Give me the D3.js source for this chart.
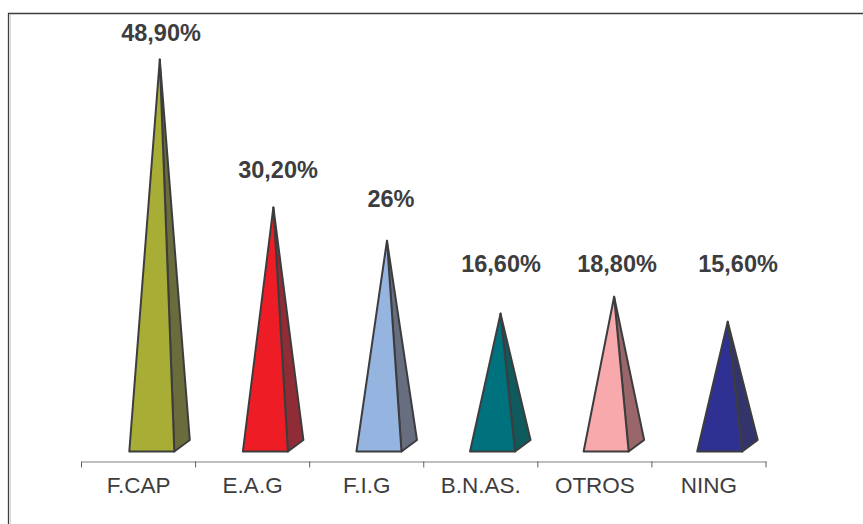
<!DOCTYPE html>
<html>
<head>
<meta charset="utf-8">
<script src="https://cdn.jsdelivr.net/npm/d3@7"></script>
<style>
  html, body { margin: 0; padding: 0; background: #fff; }
  svg { display: block; }
</style>
</head>
<body>
<div id="chart"></div>
<script>
// Data
const categorias = ["F.CAP", "E.A.G", "F.I.G", "B.N.AS.", "OTROS", "NING"];
const etiquetas  = ["48,90%", "30,20%", "26%", "16,60%", "18,80%", "15,60%"];
// drawn heights do not follow the printed labels exactly
const alturas    = [48.9, 30.45, 26.3, 17.2, 19.3, 16.2];
const coloresFrente = ["#a8ae35", "#ee1c25", "#95b5e0", "#00727d", "#f7a9ab", "#2e3192"];
const coloresLado   = ["#6b6c3c", "#8f2c35", "#666e80", "#0f5a5c", "#99666a", "#33346b"];

// Label anchors, they float free of the apex in the original
const etiquetaX = [161, 278, 391, 501, 617, 738];
const etiquetaY = [41, 178, 207, 272, 272, 272];

const largeur = 863, hauteur = 524;
const gris = "#3d3d3f";

const svg = d3.select("#chart").append("svg")
    .attr("width", largeur).attr("height", hauteur);

// Frame
svg.append("path")
    .attr("d", "M10.5,524V15")
    .attr("fill", "none").attr("stroke", "#d8d8d8").attr("stroke-width", 1);
svg.append("path")
    .attr("d", "M8.5,524V13.5H863")
    .attr("fill", "none").attr("stroke", gris).attr("stroke-width", 1.3);

// Scales: the pyramids sit on their own band, shifted from the axis one
const x = d3.scaleBand().domain(categorias).range([81.5, 766]);
const xPiramide = d3.scaleBand().domain(categorias).range([95, 776.5]);
const y = d3.scaleLinear().domain([0, 48.9]).range([451.5, 59.5]);

// Pyramid geometry
const anchoFrente = 45, fondoX = 15.5, fondoY = 11.5, apiceX = 8;

const g = svg.selectAll(".piramide").data(categorias).join("g").attr("class", "piramide");
const cx = c => xPiramide(c) + xPiramide.bandwidth() / 2;

// right side face
g.append("path")
    .attr("d", (c, i) => {
        const x0 = cx(c) + anchoFrente / 2;
        return d3.line()([[x0, y(0)], [x0 + fondoX, y(0) - fondoY], [cx(c) + apiceX, y(alturas[i])]]) + "Z";
    })
    .attr("fill", (c, i) => coloresLado[i])
    .attr("stroke", gris).attr("stroke-width", 2).attr("stroke-linejoin", "round");

// front face
g.append("path")
    .attr("d", (c, i) => {
        const x0 = cx(c) - anchoFrente / 2;
        return d3.line()([[x0, y(0)], [x0 + anchoFrente, y(0)], [cx(c) + apiceX, y(alturas[i])]]) + "Z";
    })
    .attr("fill", (c, i) => coloresFrente[i])
    .attr("stroke", gris).attr("stroke-width", 2).attr("stroke-linejoin", "round");

// Value labels
g.append("text")
    .attr("x", (c, i) => etiquetaX[i])
    .attr("y", (c, i) => etiquetaY[i])
    .attr("text-anchor", "middle")
    .attr("font-family", "'Liberation Sans', Arial, sans-serif")
    .attr("font-weight", 700)
    .attr("font-size", 23.5)
    .attr("fill", gris)
    .text((c, i) => etiquetas[i]);

// Axis
const axe = svg.append("g")
    .attr("transform", "translate(0,461.5)")
    .call(d3.axisBottom(x).tickSize(0).tickPadding(16));
axe.select(".domain").attr("stroke", "#808080").attr("stroke-width", 1.2);
axe.selectAll("text")
    .attr("font-family", "'Liberation Sans', Arial, sans-serif")
    .attr("font-size", 22.5)
    .attr("fill", gris);
axe.selectAll(".sep").data(d3.range(categorias.length + 1)).join("line")
    .attr("class", "sep")
    .attr("x1", i => 81.5 + i * x.step()).attr("x2", i => 81.5 + i * x.step())
    .attr("y1", 0).attr("y2", 6)
    .attr("stroke", "#606060");
</script>
</body>
</html>
